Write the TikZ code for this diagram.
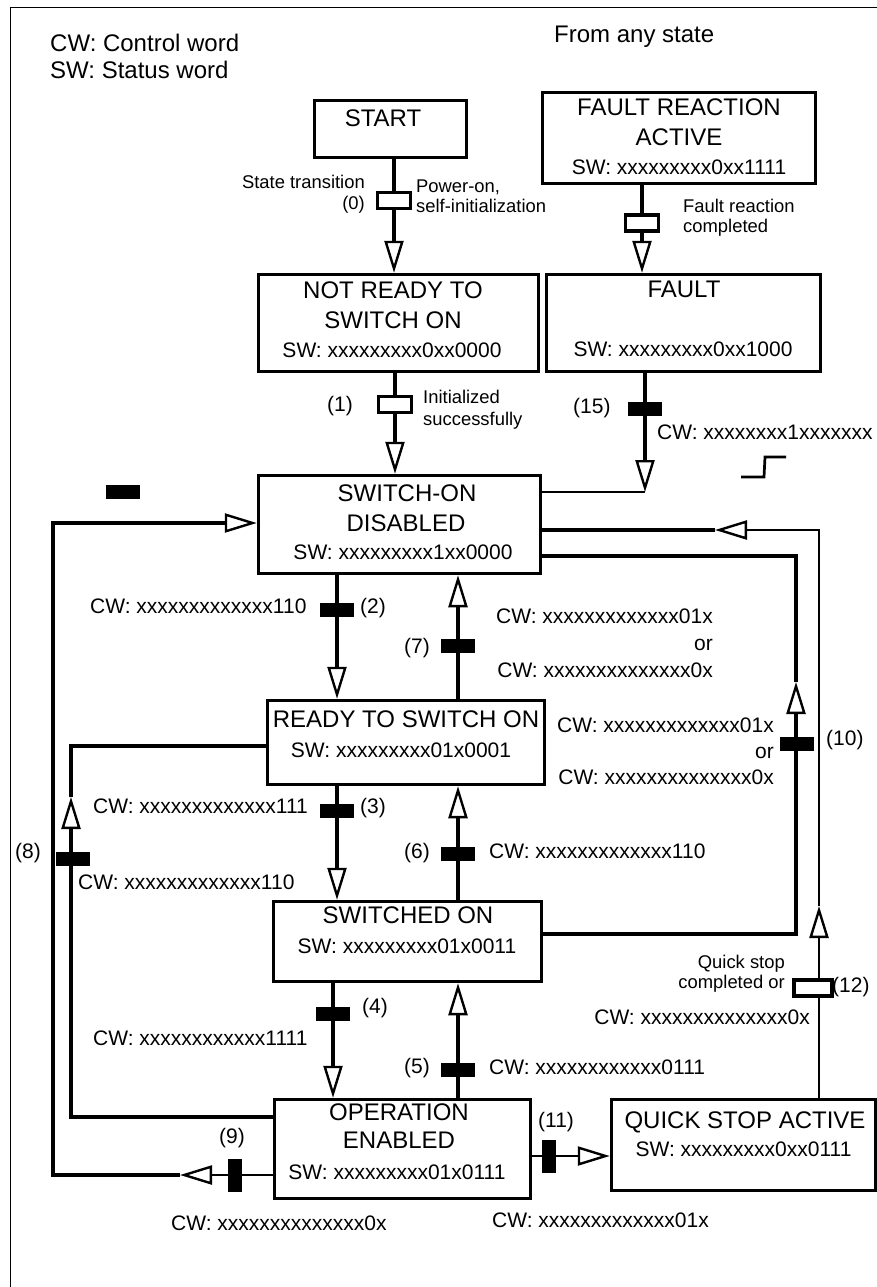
\documentclass[tikz,border=0pt]{standalone}
\usepackage{fontspec}
\setmainfont{Liberation Sans}
\usetikzlibrary{arrows.meta}
\pgfdeclarelayer{bg}
\pgfsetlayers{bg,main}
\tikzset{otri/.tip={Triangle[open,length=32pt,width=19pt,line width=2.4pt]}}
\begin{document}
\begin{tikzpicture}[x=1pt,y=-1pt,
  stbox/.style={draw,line width=3.5pt,fill=white,inner sep=0pt},
  T/.style={inner sep=0pt,font=\fontsize{24}{28}\selectfont},
  M/.style={inner sep=0pt,font=\fontsize{21}{25}\selectfont},
  S/.style={inner sep=0pt,font=\fontsize{18.4}{22}\selectfont},
  conn/.style={line width=3.4pt},
  thinc/.style={line width=2.2pt},
  vbar/.style={fill=black,inner sep=0pt,minimum width=34pt,minimum height=14pt},
  hbar/.style={fill=black,inner sep=0pt,minimum width=14pt,minimum height=33pt},
  ebox/.style={draw,fill=white,line width=3.3pt,inner sep=0pt,minimum width=33pt,minimum height=16pt}]
\useasboundingbox (0,0) rectangle (877,1287);
% frame
\draw[line width=1.3pt] (10.5,1287) -- (10.5,7.5) -- (877,7.5);
% state boxes
\node[stbox,minimum width=152pt,minimum height=57pt] (start) at (390.5,129) {};
\node[stbox,minimum width=273pt,minimum height=91pt] (fra) at (679,138) {};
\node[stbox,minimum width=280pt,minimum height=97pt] (nrtso) at (398.5,323) {};
\node[stbox,minimum width=274pt,minimum height=97pt] (fault) at (683.5,323) {};
\node[stbox,minimum width=282pt,minimum height=98pt] (sod) at (399.5,524.5) {};
\node[stbox,minimum width=277pt,minimum height=84pt] (rtso) at (406,742.5) {};
\node[stbox,minimum width=268pt,minimum height=80pt] (so) at (407.5,941.5) {};
\node[stbox,minimum width=256pt,minimum height=99pt] (oe) at (402.5,1149) {};
\node[stbox,minimum width=264pt,minimum height=91pt] (qsa) at (743.5,1145) {};
% box texts
\node[T,anchor=base] (startT) at (383,127) {START};
\node[T,anchor=base] (fraT1) at (679,116) {FAULT REACTION};
\node[T,anchor=base] (fraT2) at (679,146) {ACTIVE};
\node[M,anchor=base] (fraT3) at (679,174) {SW: xxxxxxxxx0xx1111};
\node[T,anchor=base] (nrT1) at (393,298) {NOT READY TO};
\node[T,anchor=base] (nrT2) at (393,328) {SWITCH ON};
\node[M,anchor=base] (nrT3) at (392,357) {SW: xxxxxxxxx0xx0000};
\node[T,anchor=base] (faT1) at (684,297) {FAULT};
\node[M,anchor=base] (faT2) at (683,356) {SW: xxxxxxxxx0xx1000};
\node[T,anchor=base] (sdT1) at (407,501) {SWITCH-ON};
\node[T,anchor=base] (sdT2) at (406,531) {DISABLED};
\node[M,anchor=base] (sdT3) at (403,559) {SW: xxxxxxxxx1xx0000};
\node[T,anchor=base] (rtT1) at (406,727) {READY TO SWITCH ON};
\node[M,anchor=base] (rtT2) at (401,757) {SW: xxxxxxxxx01x0001};
\node[T,anchor=base] (soT1) at (408,923) {SWITCHED ON};
\node[M,anchor=base] (soT2) at (407,953) {SW: xxxxxxxxx01x0011};
\node[T,anchor=base] (oeT1) at (399,1120) {OPERATION};
\node[T,anchor=base] (oeT2) at (399,1148) {ENABLED};
\node[M,anchor=base] (oeT3) at (397,1179) {SW: xxxxxxxxx01x0111};
\node[T,anchor=base] (qsT1) at (745,1128) {QUICK STOP ACTIVE};
\node[M,anchor=base] (qsT2) at (743.5,1156) {SW: xxxxxxxxx0xx0111};
% transition markers
\node[ebox] (t0) at (394,200.5) {};
\node[ebox] (tfr) at (642,223) {};
\node[ebox] (t1) at (395,404.5) {};
\node[ebox,minimum width=38pt] (t12) at (813,988) {};
\node[vbar] (b15) at (645,408.5) {};
\node[vbar] (b2) at (337,609.5) {};
\node[vbar] (b7) at (458,645.5) {};
\node[vbar] (b3) at (337,811) {};
\node[vbar] (b6) at (458,854) {};
\node[vbar] (b4) at (333,1013.5) {};
\node[vbar] (b5) at (458,1070) {};
\node[vbar] (b8) at (73,859) {};
\node[vbar] (b10) at (797,743.5) {};
\node[vbar] (blone) at (123,492) {};
\node[hbar] (b9) at (235,1175) {};
\node[hbar] (b11) at (548.5,1156) {};
% corner coordinates
\coordinate (c15) at (645,492);
\coordinate (c8a) at (71,1117);
\coordinate (c8b) at (71,797);
\coordinate (c8c) at (71,746);
\coordinate (c9a) at (180,1175);
\coordinate (c9b) at (53,1175);
\coordinate (c9c) at (53,523);
\coordinate (c10a) at (796,934);
\coordinate (c10b) at (796,682);
\coordinate (c10c) at (796,556);
\coordinate (c12a) at (819,906);
\coordinate (c12b) at (819,530);
\coordinate (c12c) at (715,530);
% connectors
\begin{pgfonlayer}{bg}
\draw[conn,-{otri}] (t0 |- start.south) -- (t0 |- nrtso.north);
\draw[conn,-{otri}] (tfr |- fra.south) -- (tfr |- fault.north);
\draw[conn,-{otri}] (t1 |- nrtso.south) -- (t1 |- sod.north);
\draw[conn,-{otri}] (b15 |- fault.south) -- (c15);
\draw[thinc] (c15) -- (sod.east |- c15);
\draw[conn,-{otri}] (b2 |- sod.south) -- (b2 |- rtso.north);
\draw[conn,-{otri}] (b7 |- rtso.north) -- (b7 |- sod.south);
\draw[conn,-{otri}] (b3 |- rtso.south) -- (b3 |- so.north);
\draw[conn,-{otri}] (b6 |- so.north) -- (b6 |- rtso.south);
\draw[conn,-{otri}] (b4 |- so.south) -- (b4 |- oe.north);
\draw[conn,-{otri}] (b5 |- oe.north) -- (b5 |- so.south);
\draw[line width=2.7pt,-{otri}] (oe.east |- b11) -- (qsa.west |- b11);
\draw[line width=2.7pt,-{otri}] (oe.west |- b9) -- (c9a);
\draw[conn,-{otri}] (c9a) -- (c9b) -- (c9c) -- (sod.west |- c9c);
\draw[conn,-{otri}] (oe.west |- c8a) -- (c8a) -- (c8b);
\draw[conn] (c8b) -- (c8c) -- (rtso.west |- c8c);
\draw[conn,-{otri}] (so.east |- c10a) -- (c10a) -- (c10b);
\draw[conn] (c10b) -- (c10c) -- (sod.east |- c10c);
\draw[thinc,-{otri}] (qsa.north -| c12a) -- (c12a);
\draw[line width=2.7pt,-{otri}] (c12a) -- (c12b) -- (c12c);
\draw[conn] (c12c) -- (sod.east |- c12c);
\end{pgfonlayer}
% rising edge symbol
\draw[line width=2.7pt] (741,477) -- (764,477) -- (765,457) -- (786,457);
% labels
\node[T,anchor=base west] (lg1) at (50,52) {CW: Control word};
\node[T,anchor=base west] (lg2) at (50,79) {SW: Status word};
\node[T,anchor=base west] (lg3) at (554,43) {From any state};
\node[S,anchor=base east] (l0a) at (365,188) {State transition};
\node[S,anchor=base east] (l0b) at (365,209) {(0)};
\node[S,anchor=base west] (l0c) at (416,192) {Power-on,};
\node[S,anchor=base west] (l0d) at (416,212) {self-initialization};
\node[S,anchor=base west] (lfa) at (683,212) {Fault reaction};
\node[S,anchor=base west] (lfb) at (683,232) {completed};
\node[M,anchor=base east] (l1a) at (353,411) {(1)};
\node[S,anchor=base west] (l1b) at (423,403) {Initialized};
\node[S,anchor=base west] (l1c) at (423,425) {successfully};
\node[M,anchor=base west] (l15a) at (573,413) {(15)};
\node[M,anchor=base west] (l15b) at (657,439) {CW: xxxxxxxx1xxxxxxx};
\node[M,anchor=base west] (l2a) at (90,613) {CW: xxxxxxxxxxxxx110};
\node[M,anchor=base west] (l2b) at (360,613) {(2)};
\node[M,anchor=base west] (l7a) at (404,653) {(7)};
\node[M,anchor=base east] (l7b) at (713,623) {CW: xxxxxxxxxxxxx01x};
\node[M,anchor=base east] (l7c) at (713,650) {or};
\node[M,anchor=base east] (l7d) at (713,677) {CW: xxxxxxxxxxxxxx0x};
\node[M,anchor=base east] (l10a) at (774,732) {CW: xxxxxxxxxxxxx01x};
\node[M,anchor=base east] (l10b) at (774,758) {or};
\node[M,anchor=base east] (l10c) at (774,784) {CW: xxxxxxxxxxxxxx0x};
\node[M,anchor=base west] (l10d) at (826,745) {(10)};
\node[M,anchor=base west] (l3a) at (93,813) {CW: xxxxxxxxxxxxx111};
\node[M,anchor=base west] (l3b) at (360,813) {(3)};
\node[M,anchor=base west] (l8a) at (15,858) {(8)};
\node[M,anchor=base west] (l8b) at (78,889) {CW: xxxxxxxxxxxxx110};
\node[M,anchor=base west] (l6a) at (404,858) {(6)};
\node[M,anchor=base west] (l6b) at (489,858) {CW: xxxxxxxxxxxxx110};
\node[S,anchor=base east] (l12a) at (785,968) {Quick stop};
\node[S,anchor=base east] (l12b) at (785,988) {completed or};
\node[M,anchor=base west] (l12c) at (832,992) {(12)};
\node[M,anchor=base east] (l12d) at (810,1024) {CW: xxxxxxxxxxxxxx0x};
\node[M,anchor=base west] (l4a) at (362,1013) {(4)};
\node[M,anchor=base west] (l4b) at (93,1045) {CW: xxxxxxxxxxxx1111};
\node[M,anchor=base west] (l5a) at (404,1073) {(5)};
\node[M,anchor=base west] (l5b) at (489,1074) {CW: xxxxxxxxxxxx0111};
\node[M,anchor=base west] (l9a) at (219,1143) {(9)};
\node[M,anchor=base west] (l9b) at (171,1230) {CW: xxxxxxxxxxxxxx0x};
\node[M,anchor=base west] (l11a) at (538,1127) {(11)};
\node[M,anchor=base west] (l11b) at (492,1227) {CW: xxxxxxxxxxxxx01x};
\end{tikzpicture}
\end{document}
